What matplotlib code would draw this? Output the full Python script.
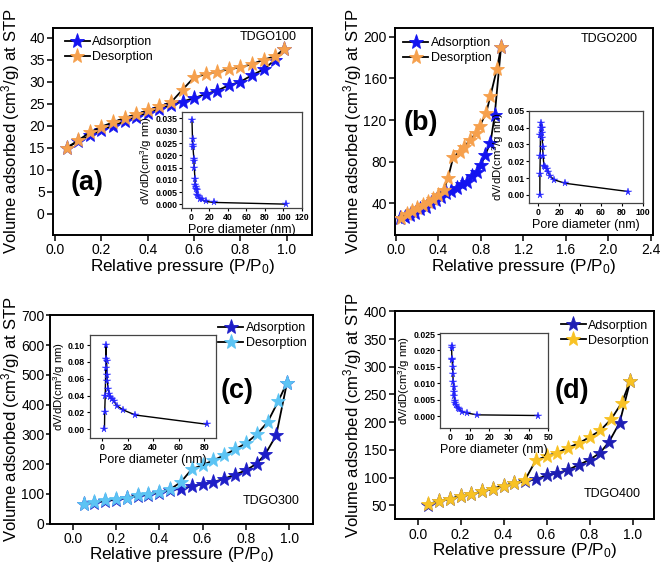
import matplotlib
matplotlib.use("Agg")
import matplotlib.pyplot as plt
from matplotlib.ticker import FormatStrFormatter
import numpy as np

plt.rcParams['font.family'] = ['Liberation Sans', 'DejaVu Sans']
plt.rcParams['mathtext.fontset'] = 'custom'
plt.rcParams['mathtext.rm'] = 'Liberation Sans'
plt.rcParams['mathtext.it'] = 'Liberation Sans'

# ---------------- data ----------------
# Panel (a) TDGO100
p_a_ads = [0.05, 0.10, 0.15, 0.20, 0.25, 0.30, 0.35, 0.40, 0.45, 0.50, 0.55, 0.60, 0.65, 0.70, 0.75, 0.80, 0.85, 0.90, 0.95, 0.99]
v_a_ads = [15.0, 16.5, 17.8, 19.0, 20.0, 21.0, 22.0, 23.0, 23.8, 24.7, 25.5, 26.3, 27.2, 28.0, 29.2, 30.0, 31.5, 32.8, 35.0, 37.5]
p_a_des = [0.05, 0.10, 0.15, 0.20, 0.25, 0.30, 0.35, 0.40, 0.45, 0.50, 0.55, 0.60, 0.65, 0.70, 0.75, 0.80, 0.85, 0.90, 0.95, 0.99]
v_a_des = [15.0, 16.7, 18.5, 19.8, 20.8, 21.8, 22.6, 23.5, 24.4, 25.3, 28.2, 31.0, 31.7, 32.3, 32.8, 33.3, 34.0, 35.0, 35.8, 37.5]
d_a_in = [1.4, 2.0, 2.0, 2.4, 3.5, 3.5, 3.9, 4.6, 5.0, 5.7, 6.0, 6.4, 7.1, 7.8, 10.3, 12.0, 16.0, 25.0, 103.0]
dv_a_in = [0.0345, 0.0265, 0.024, 0.0235, 0.0185, 0.0175, 0.015, 0.0105, 0.008, 0.007, 0.0063, 0.0058, 0.0038, 0.0035, 0.0020, 0.0020, 0.0012, 0.0008, 0.0001]

# Panel (b) TDGO200
p_b_ads = [0.04, 0.08, 0.13, 0.18, 0.23, 0.28, 0.33, 0.38, 0.42, 0.47, 0.52, 0.57, 0.62, 0.67, 0.72, 0.76, 0.80, 0.84, 0.89, 0.93, 0.99]
v_b_ads = [25.6, 27.2, 28.8, 31.0, 34.2, 36.8, 40.0, 43.1, 46.3, 49.5, 52.0, 55.0, 58.3, 60.8, 66.5, 70.4, 76.8, 86.4, 98.2, 124.8, 190.4]
p_b_des = [0.05, 0.10, 0.15, 0.20, 0.25, 0.30, 0.35, 0.40, 0.45, 0.49, 0.54, 0.60, 0.64, 0.70, 0.75, 0.79, 0.85, 0.89, 0.95, 0.99]
v_b_des = [26.0, 30.0, 33.0, 36.0, 38.0, 41.0, 44.0, 48.0, 53.0, 64.6, 84.8, 89.6, 94.4, 100.8, 107.2, 114.5, 127.0, 143.4, 168.7, 190.4]
d_b_in = [1.5, 1.6, 1.9, 2.1, 2.4, 2.8, 3.2, 3.5, 3.8, 4.2, 4.6, 5.5, 6.5, 8.0, 9.5, 11.5, 15.5, 25.5, 86.0]
dv_b_in = [0.0, 0.0126, 0.023, 0.0356, 0.0395, 0.0425, 0.040, 0.037, 0.0336, 0.0287, 0.023, 0.0174, 0.0168, 0.0154, 0.0134, 0.011, 0.0089, 0.0069, 0.002]

# Panel (c) TDGO300
p_c_ads = [0.05, 0.10, 0.15, 0.20, 0.25, 0.30, 0.35, 0.40, 0.45, 0.50, 0.55, 0.60, 0.65, 0.70, 0.75, 0.80, 0.85, 0.89, 0.94, 0.99]
v_c_ads = [65, 71, 76, 81, 86, 93, 97, 104, 112, 118, 125, 133, 140, 151, 165, 179, 202, 234, 297, 474]
p_c_des = [0.05, 0.10, 0.15, 0.20, 0.25, 0.30, 0.35, 0.40, 0.45, 0.50, 0.55, 0.60, 0.65, 0.70, 0.75, 0.80, 0.85, 0.90, 0.95, 0.99]
v_c_des = [65, 72, 78, 82, 88, 95, 100, 106, 115, 140, 183, 197, 213, 230, 250, 270, 300, 341, 412, 474]
d_c_in = [1.8, 2.0, 2.4, 2.8, 3.0, 3.3, 3.5, 3.8, 4.1, 4.6, 5.6, 6.4, 7.5, 9.0, 11.5, 16.5, 26.0, 82.0]
dv_c_in = [0.0, 0.021, 0.040, 0.073, 0.100, 0.084, 0.081, 0.064, 0.057, 0.048, 0.042, 0.038, 0.036, 0.034, 0.028, 0.023, 0.017, 0.006]

# Panel (d) TDGO400
p_d_ads = [0.05, 0.10, 0.15, 0.20, 0.25, 0.30, 0.35, 0.40, 0.45, 0.50, 0.55, 0.60, 0.65, 0.70, 0.75, 0.80, 0.85, 0.89, 0.94, 0.99]
v_d_ads = [51, 57, 62, 66, 70, 75, 80, 85, 90, 93, 97, 104, 108, 114, 123, 132, 145, 164, 199, 275]
p_d_des = [0.05, 0.10, 0.15, 0.20, 0.25, 0.30, 0.35, 0.40, 0.45, 0.50, 0.55, 0.60, 0.65, 0.70, 0.75, 0.80, 0.85, 0.90, 0.95, 0.99]
v_d_des = [52, 58, 62, 66, 70, 75, 80, 85, 90, 96, 131, 139, 145, 154, 162, 173, 185, 205, 235, 275]
d_d_in = [0.85, 0.9, 1.0, 1.1, 1.4, 1.5, 1.7, 1.9, 2.0, 2.2, 2.4, 2.7, 3.1, 3.9, 4.7, 6.3, 8.5, 13.6, 44.6]
dv_d_in = [0.0215, 0.0208, 0.0175, 0.0172, 0.0150, 0.0128, 0.0105, 0.0090, 0.0075, 0.0060, 0.0045, 0.0040, 0.0035, 0.0025, 0.0022, 0.0013, 0.0010, 0.0004, 0.0002]

labels = ["Adsorption", "Desorption"]
samples = ["TDGO100", "TDGO200", "TDGO300", "TDGO400"]
panel_tags = ["(a)", "(b)", "(c)", "(d)"]

# ---------------- figure ----------------
W, H = 662, 565
fig = plt.figure(figsize=(W / 100, H / 100), dpi=100)

main_rects = [
    [0.0801, 0.584, 0.3912, 0.3664],
    [0.5967, 0.584, 0.3893, 0.3664],
    [0.0755, 0.0731, 0.3973, 0.3688],
    [0.5971, 0.0809, 0.3908, 0.368],
]
inset_rects = [
    [0.2754, 0.6313, 0.1808, 0.1699],
    [0.7995, 0.6402, 0.1713, 0.1639],
    [0.1360, 0.2242, 0.1900, 0.1828],
    [0.6647, 0.2419, 0.1636, 0.1680],
]
# label anchor positions in figure pixels: (ylabel right edge x, xlabel centre y)
label_px = [(22, 266), (364, 266), (22, 555), (364, 551)]
# y tick (length, pad) per panel
ytick_lp = [(4, 2), (4, 2), (3, 1), (4, 2)]

panels = [
    dict(ads=(p_a_ads, v_a_ads), des=(p_a_des, v_a_des), inset=(d_a_in, dv_a_in),
         ads_c='#1414f0', des_c='#f6a04c',
         xlim=(-0.009, 1.109), xt=np.arange(0, 1.01, 0.2), xfmt='%.1f',
         ylim=(-4.8, 42.2), yt=np.arange(0, 41, 5),
         ixlim=(-9, 120), ixt=np.arange(0, 121, 20), iylim=(-0.0016, 0.0375), iyt=np.arange(0, 0.0351, 0.005), iyfmt='%.3f',
         leg=(0.046, 0.96), sample=(0.94, 0.955, 'right'), tag=(0.14, 7.0)),
    dict(ads=(p_b_ads, v_b_ads), des=(p_b_des, v_b_des), inset=(d_b_in, dv_b_in),
         ads_c='#1414f0', des_c='#f6a04c',
         xlim=(-0.01, 2.42), xt=np.arange(0, 2.41, 0.4), xfmt='%.1f',
         ylim=(9.6, 208.4), yt=np.arange(40, 201, 40),
         ixlim=(-8.6, 100), ixt=np.arange(0, 101, 20), iylim=(-0.005, 0.05), iyt=np.arange(0, 0.051, 0.01), iyfmt='%.2f',
         leg=(0.031, 0.955), sample=(0.94, 0.945, 'right'), tag=(0.235, 117)),
    dict(ads=(p_c_ads, v_c_ads), des=(p_c_des, v_c_des), inset=(d_c_in, dv_c_in),
         ads_c='#1e1ec8', des_c='#5cc4f4',
         xlim=(-0.105, 1.11), xt=np.arange(0, 1.01, 0.2), xfmt='%.1f',
         ylim=(0, 700), yt=np.arange(0, 701, 100),
         ixlim=(-9.5, 89), ixt=np.arange(0, 81, 20), iylim=(-0.0107, 0.112), iyt=np.arange(0, 0.101, 0.02), iyfmt='%.2f',
         leg=(0.639, 0.967), sample=(0.95, 0.11, 'right'), tag=(0.76, 447)),
    dict(ads=(p_d_ads, v_d_ads), des=(p_d_des, v_d_des), inset=(d_d_in, dv_d_in),
         ads_c='#1e1eb4', des_c='#f8c224',
         xlim=(-0.104, 1.1), xt=np.arange(0, 1.01, 0.2), xfmt='%.1f',
         ylim=(24.7, 400), yt=np.arange(50, 401, 50),
         ixlim=(-5, 50), ixt=np.arange(0, 51, 10), iylim=(-0.0037, 0.0252), iyt=np.arange(0, 0.0251, 0.005), iyfmt='%.3f',
         leg=(0.64, 0.96), sample=(0.95, 0.12, 'right'), tag=(0.72, 257)),
]

for i, P in enumerate(panels):
    rect = main_rects[i]
    ax = fig.add_axes(rect)
    ax.plot(*P['ads'], color='black', lw=1.3, marker='*', ms=11,
            mfc=P['ads_c'], mec=P['ads_c'], mew=0.6, label=labels[0], zorder=3)
    ax.plot(*P['des'], color='black', lw=1.3, marker='*', ms=11,
            mfc=P['des_c'], mec=P['des_c'], mew=0.6, label=labels[1], zorder=4)
    ax.set_xlim(*P['xlim'])
    ax.set_ylim(*P['ylim'])
    ax.set_xticks(P['xt'])
    ax.set_yticks(P['yt'])
    ax.xaxis.set_major_formatter(FormatStrFormatter(P['xfmt']))
    ax.tick_params(axis='x', direction='out', length=4, width=1.1, labelsize=10, pad=2)
    ax.tick_params(axis='y', direction='out', length=ytick_lp[i][0], width=1.1,
                   labelsize=10, pad=ytick_lp[i][1])
    for s in ax.spines.values():
        s.set_linewidth(1.4)
    ax.set_xlabel('Relative pressure (P/P$_0$)', fontsize=12.3, va='center')
    ax.set_ylabel('Volume adsorbed (cm$^3$/g) at STP', fontsize=12.0)
    lx_px, ly_px = label_px[i]
    ax_left_px = rect[0] * W
    ax_w_px = rect[2] * W
    ax_top_px = (1 - rect[1] - rect[3]) * H
    ax_h_px = rect[3] * H
    ax.yaxis.set_label_coords((lx_px - ax_left_px) / ax_w_px, 0.5)
    ax.xaxis.set_label_coords(0.5, 1 - (ly_px - ax_top_px) / ax_h_px)
    ax.legend(loc='upper left', bbox_to_anchor=P['leg'], frameon=False, fontsize=9,
              borderpad=0, borderaxespad=0, handlelength=2.0, handletextpad=0.2,
              labelspacing=0.25, numpoints=1)
    sx, sy, ha = P['sample']
    ax.text(sx, sy, samples[i], transform=ax.transAxes, fontsize=9, ha=ha, va='center')
    ax.text(P['tag'][0], P['tag'][1], panel_tags[i], fontsize=19.5, fontweight='bold',
            ha='center', va='center')

    ia = fig.add_axes(inset_rects[i])
    ia.plot(*P['inset'], color='black', lw=1.0, marker='*', ms=5.5,
            mfc='#2323ff', mec='#2323ff', mew=0.3)
    ia.set_xlim(*P['ixlim'])
    ia.set_ylim(*P['iylim'])
    ia.set_xticks(P['ixt'])
    ia.set_yticks(P['iyt'])
    ia.yaxis.set_major_formatter(FormatStrFormatter(P['iyfmt']))
    ia.tick_params(direction='out', length=2, width=0.8, labelsize=6.3, pad=1.5)
    for lab in ia.get_xticklabels() + ia.get_yticklabels():
        lab.set_fontweight('bold')
    for s in ia.spines.values():
        s.set_linewidth(0.9)
        s.set_color('#444444')
    ia.set_xlabel('Pore diameter (nm)', fontsize=9, labelpad=1)
    ia.set_ylabel('dV/dD(cm$^3$/g nm)', fontsize=8.2, labelpad=1)

fig.savefig('out.png', dpi=100)
